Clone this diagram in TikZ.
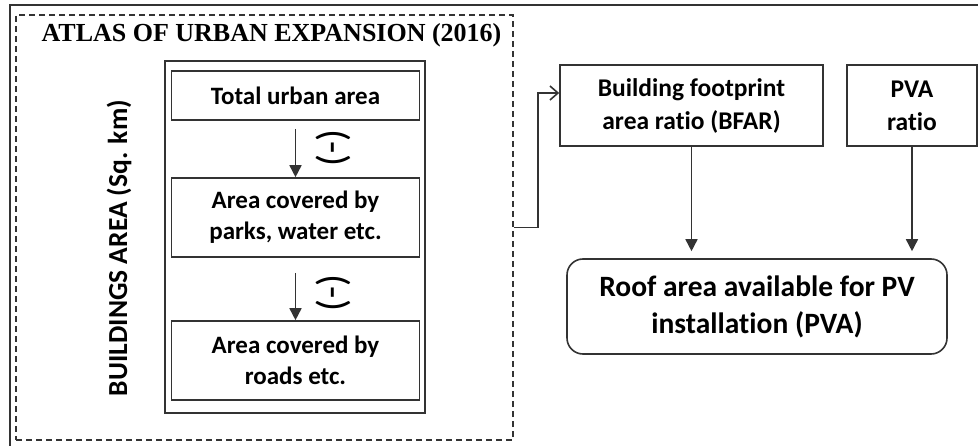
\documentclass[tikz,border=0pt]{standalone}
\usepackage{fontspec}
\setmainfont{Carlito}[Ligatures=NoCommon]
\newfontfamily\titlefont{Liberation Serif}
\usetikzlibrary{arrows.meta,positioning,calc}

\begin{document}
\begin{tikzpicture}[x=1pt,y=-1pt,>={Triangle[length=12pt,width=12pt]},
    line width=1.6pt,draw=black!80,
    areabox/.style={draw,minimum width=248pt,inner sep=0pt,align=center,
      font=\fontsize{25}{31}\selectfont\bfseries},
    ratiobox/.style={draw,minimum height=81pt,inner sep=0pt,align=center,
      font=\fontsize{25.5}{33}\selectfont\bfseries},
    minuslabel/.style={rotate=-90,font=\fontsize{40}{40}\selectfont}]
    \useasboundingbox (0,0) rectangle (978,446);
    \clip (0,0) rectangle (978,446);
    % outer frame (right and bottom sides are cut off)
    \draw (10,5) rectangle (995,470);
    % dashed block of the atlas data
    \node[draw,dashed,dash pattern=on 6pt off 4pt,minimum width=497pt,minimum height=425pt] (atlas) at (264.5,227.5) {};
    \node[font=\titlefont\fontsize{26}{26}\selectfont\bfseries] (title) at (271.5,35) {ATLAS OF URBAN EXPANSION (2016)};
    \node[rotate=90,font=\fontsize{27.5}{27.5}\selectfont\bfseries] (unit) at (119,248) {BUILDINGS AREA (Sq. km)};
    % column of areas
    \node[draw,minimum width=260pt,minimum height=352pt] (column) at (295,237) {};
    \node[areabox,minimum height=49pt] (total) at (295.5,95.5) {Total urban area};
    \node[areabox,minimum height=79pt] (parks) at (295.5,217.5) {Area covered by\\parks, water etc.};
    \node[areabox,minimum height=79pt] (roads) at (295.5,360.5) {Area covered by\\roads etc.};
    \node[minuslabel] (minusa) at (333,148) {(-)};
    \node[minuslabel] (minusb) at (333,293) {(-)};
    \draw[->,shorten <=8pt] (total) -- (parks);
    \draw[->,shorten <=15pt] (parks) -- (roads);
    % ratios and result
    \node[ratiobox,minimum width=263pt] (bfar) at (691.5,105.5) {Building footprint\\area ratio (BFAR)};
    \node[ratiobox,minimum width=130pt] (pva) at (912,105.5) {PVA\\ratio};
    \node[draw,rounded corners=16pt,minimum width=380pt,minimum height=95pt,align=center,
      font=\fontsize{29.5}{37}\selectfont\bfseries] (roof) at (757,306.5) {Roof area available for PV\\installation (PVA)};
    \draw[-{Straight Barb[length=8pt,width=14pt]}] (atlas.east) -- ++(24,0) |- ([yshift=12.5pt]bfar.west);
    \draw[->,shorten >=7pt] (bfar) -- (bfar |- roof.north);
    \draw[->,shorten >=7pt] (pva) -- (pva |- roof.north);
  \end{tikzpicture}
\end{document}
